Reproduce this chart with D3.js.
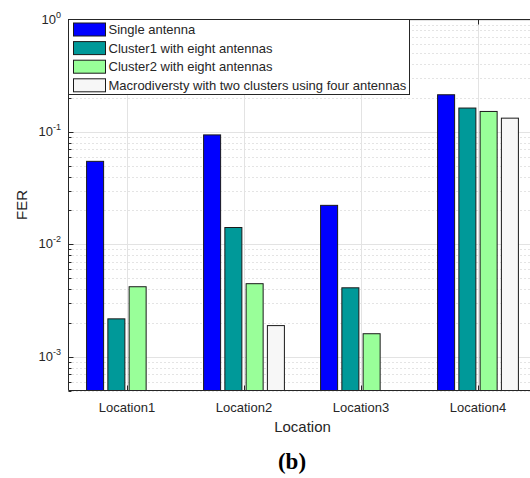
<!DOCTYPE html>
<html>
<head>
<meta charset="utf-8">
<script src="https://cdn.jsdelivr.net/npm/d3@7"></script>
<style>
  body { margin: 0; background: #fff; }
  svg { display: block; font-family: "Liberation Sans", Arial, Helvetica, sans-serif; }
</style>
</head>
<body>
<svg id="chart" width="530" height="478"></svg>
<script>
// chart data
const locations = ["Location1", "Location2", "Location3", "Location4"];
const seriesNames = [
    "Single antenna",
    "Cluster1 with eight antennas",
    "Cluster2 with eight antennas",
    "Macrodiversty with two clusters using four antennas"
];
const seriesColors = ["#0000ff", "#009999", "#99ff99", "#f7f7f7"];
const singleFER   = [0.0547, 0.094, 0.0222, 0.214];
const cluster1FER = [0.00217, 0.0141, 0.0041, 0.163];
const cluster2FER = [0.00419, 0.00446, 0.0016, 0.152];
const macroFER    = [null, 0.00189, null, 0.1325];
const yTickValues = [1e-3, 1e-2, 1e-1, 1];
const yTickExps   = ["-3", "-2", "-1", "0"];

const seriesValues = [singleFER, cluster1FER, cluster2FER, macroFER];

const svg = d3.select("#chart");
const margin = {top: 19.5, left: 68.5, bottom: 390.5, right: 536.5};
const ink = "#262626";

const x = d3.scaleBand()
    .domain(locations)
    .range([margin.left, margin.right])
    .paddingInner(0).paddingOuter(0);

const groupW = x.bandwidth() * 0.727;
const xInner = d3.scaleBand()
    .domain(d3.range(seriesNames.length))
    .range([-groupW / 2, groupW / 2])
    .paddingInner(0.2).paddingOuter(0.1);

const y = d3.scaleLog()
    .domain([5e-4, 1])
    .range([margin.bottom, margin.top]);

// grid
const minorVals = [];
[1e-4, 1e-3, 1e-2, 1e-1].forEach(dec => {
    for (let k = 2; k <= 9; k++) {
        const v = dec * k;
        if (v >= 5e-4 && v < 1) minorVals.push(v);
    }
});

const grid = svg.append("g");
grid.selectAll(".minor")
    .data(minorVals)
    .join("line")
    .attr("x1", margin.left).attr("x2", margin.right)
    .attr("y1", d => Math.round(y(d)) + 0.5).attr("y2", d => Math.round(y(d)) + 0.5)
    .attr("stroke", "#c8c8c8")
    .attr("stroke-dasharray", "1,3");

grid.selectAll(".major")
    .data(yTickValues)
    .join("line")
    .attr("x1", margin.left).attr("x2", margin.right)
    .attr("y1", d => Math.round(y(d)) + 0.5).attr("y2", d => Math.round(y(d)) + 0.5)
    .attr("stroke", "#e3e3e3");

grid.selectAll(".vgrid")
    .data(locations)
    .join("line")
    .attr("x1", d => Math.round(x(d) + x.bandwidth() / 2) + 0.5)
    .attr("x2", d => Math.round(x(d) + x.bandwidth() / 2) + 0.5)
    .attr("y1", margin.top).attr("y2", margin.bottom)
    .attr("stroke", "#e3e3e3");

// bars
const bars = [];
locations.forEach((loc, i) => {
    seriesValues.forEach((vals, s) => {
        if (vals[i] != null) bars.push({loc: loc, s: s, v: vals[i]});
    });
});

svg.append("g")
    .selectAll("rect")
    .data(bars)
    .join("rect")
    .attr("x", d => x(d.loc) + x.bandwidth() / 2 + xInner(d.s))
    .attr("width", xInner.bandwidth())
    .attr("y", d => y(d.v))
    .attr("height", d => margin.bottom - y(d.v))
    .attr("fill", d => seriesColors[d.s])
    .attr("stroke", "#1a1a1a")
    .attr("stroke-width", 1);

// axes
const axes = svg.append("g").attr("stroke", ink).attr("fill", "none");
axes.append("line")
    .attr("x1", margin.left).attr("x2", margin.left)
    .attr("y1", margin.top).attr("y2", margin.bottom);
axes.append("line")
    .attr("x1", margin.left).attr("x2", margin.right)
    .attr("y1", margin.bottom).attr("y2", margin.bottom);
axes.append("line")
    .attr("x1", margin.left).attr("x2", margin.right)
    .attr("y1", margin.top).attr("y2", margin.top);

// y ticks
axes.selectAll(".ymaj")
    .data(yTickValues)
    .join("line")
    .attr("x1", margin.left).attr("x2", margin.left + 5)
    .attr("y1", d => Math.round(y(d)) + 0.5).attr("y2", d => Math.round(y(d)) + 0.5);
axes.selectAll(".ymin")
    .data(minorVals)
    .join("line")
    .attr("x1", margin.left).attr("x2", margin.left + 3)
    .attr("y1", d => Math.round(y(d)) + 0.5).attr("y2", d => Math.round(y(d)) + 0.5);

// x ticks (bottom up, top down)
axes.selectAll(".xb")
    .data(locations)
    .join("line")
    .attr("x1", d => Math.round(x(d) + x.bandwidth() / 2) + 0.5)
    .attr("x2", d => Math.round(x(d) + x.bandwidth() / 2) + 0.5)
    .attr("y1", margin.bottom).attr("y2", margin.bottom - 5);
axes.selectAll(".xt")
    .data(locations)
    .join("line")
    .attr("x1", d => Math.round(x(d) + x.bandwidth() / 2) + 0.5)
    .attr("x2", d => Math.round(x(d) + x.bandwidth() / 2) + 0.5)
    .attr("y1", margin.top).attr("y2", margin.top + 5);

// tick labels
svg.append("g")
    .selectAll("text")
    .data(locations)
    .join("text")
    .attr("x", d => x(d) + x.bandwidth() / 2)
    .attr("y", margin.bottom + 21)
    .attr("text-anchor", "middle")
    .attr("font-size", 13)
    .attr("fill", ink)
    .text(d => d);

const yl = svg.append("g")
    .selectAll("text")
    .data(yTickValues)
    .join("text")
    .attr("x", 61)
    .attr("y", d => y(d) + 4)
    .attr("text-anchor", "end")
    .attr("font-size", 13)
    .attr("fill", ink);
yl.append("tspan").text("10");
yl.append("tspan")
    .attr("dy", -6)
    .attr("font-size", 9)
    .text((d, i) => yTickExps[i]);

// axis labels
svg.append("text")
    .attr("x", x("Location2") + x.bandwidth())
    .attr("y", margin.bottom + 41)
    .attr("text-anchor", "middle")
    .attr("font-size", 15)
    .attr("fill", ink)
    .text("Location");

svg.append("text")
    .attr("transform", `translate(27,${(margin.top + margin.bottom) / 2}) rotate(-90)`)
    .attr("text-anchor", "middle")
    .attr("font-size", 15)
    .attr("fill", ink)
    .text("FER");

// legend
const legend = svg.append("g");
legend.append("rect")
    .attr("x", margin.left).attr("y", margin.top)
    .attr("width", 341).attr("height", 75)
    .attr("fill", "#fff")
    .attr("stroke", ink);

const li = legend.selectAll(".item")
    .data(seriesNames)
    .join("g")
    .attr("transform", (d, i) => `translate(${margin.left + 5},${margin.top + 3.5 + i * 18.6})`);
li.append("rect")
    .attr("width", 32).attr("height", 13)
    .attr("fill", (d, i) => seriesColors[i])
    .attr("stroke", "#1a1a1a");
li.append("text")
    .attr("x", 35).attr("y", 11)
    .attr("font-size", 13)
    .attr("fill", ink)
    .text(d => d);

// panel label
svg.append("text")
    .attr("x", 292)
    .attr("y", 469)
    .attr("text-anchor", "middle")
    .attr("font-family", "'Liberation Serif', 'Times New Roman', serif")
    .attr("font-weight", "bold")
    .attr("font-size", 23)
    .attr("fill", "#000")
    .text("(b)");
</script>
</body>
</html>
